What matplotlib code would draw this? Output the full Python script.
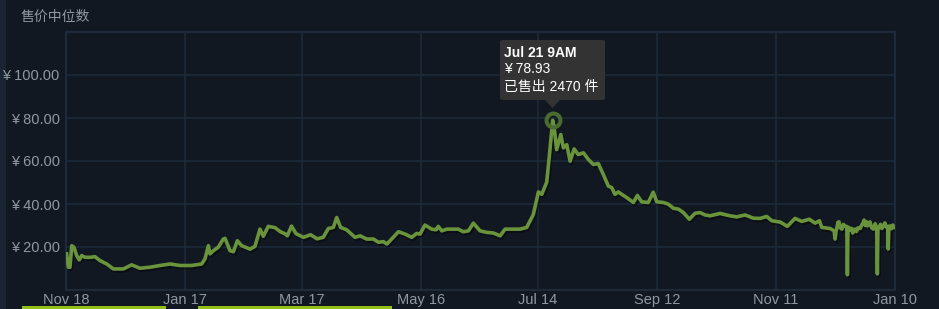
import matplotlib
matplotlib.use("Agg")
import matplotlib.pyplot as plt
import matplotlib.patheffects as pe
from matplotlib.patches import Rectangle, Polygon, FancyBboxPatch

plt.rcParams['font.family'] = ['Liberation Sans', 'Noto Sans CJK SC', 'DejaVu Sans']

# days since Nov 18 and median sale price (CNY)
days = [0.3, 1.2, 2.0, 2.9, 4.0, 5.4, 6.7, 7.9, 9.6, 12.1, 14.6, 17.1, 20.5, 23.9, 28.9,
        33.1, 37.3, 42.4, 47.4, 52.4, 57.5, 63.4, 68.4, 70.1, 71.8, 72.6, 74.3, 76.8,
        79.3, 80.2, 82.7, 84.4, 86.4, 88.6, 92.8, 95.3, 97.8, 99.5, 102.0, 105.4, 107.9,
        110.7, 111.6, 113.7, 116.0, 119.7, 123.3, 126.6, 129.7, 132.3, 134.8, 136.5,
        138.5, 141.5, 145.7, 148.3, 151.6, 155.0, 157.5, 160.0, 161.8, 163.4, 164.2,
        167.6, 171.0, 174.3, 176.8, 178.5, 181.0, 184.4, 186.6, 187.7, 189.5, 192.0,
        197.8, 200.3, 202.9, 205.4, 208.8, 212.1, 215.5, 218.9, 221.4, 225.6, 228.9,
        232.3, 235.6, 238.2, 239.9, 242.4, 243.7, 245.4, 246.1, 247.4, 249.5, 250.8,
        252.5, 254.2, 256.2, 258.3, 260.9, 263.4, 265.9, 268.4, 270.9, 273.5, 275.2,
        276.8, 278.5, 280.2, 282.7, 286.1, 288.1, 290.3, 293.6, 296.1, 297.9, 301.2,
        303.7, 306.3, 308.8, 311.3, 314.3, 317.2, 319.7, 322.2, 324.7, 329.8, 334.8,
        338.2, 342.4, 346.6, 350.0, 353.3, 355.9, 360.1, 363.7, 367.6, 371.0, 374.8,
        377.7, 379.9, 381.1, 385.3, 387.3, 387.8, 388.3, 388.6, 389.2, 389.8, 390.4,
        391.2, 392.0, 392.8, 393.7, 394.0, 394.3, 394.8, 395.5, 396.2, 396.7, 397.3,
        397.9, 398.6, 399.3, 400.4, 401.2, 401.8, 402.4, 403.0, 403.5, 404.1, 404.7,
        405.4, 406.2, 407.1, 408.0, 408.8, 409.1, 409.4, 410.0, 410.7, 411.4, 412.1,
        412.9, 413.6, 414.3, 414.6, 414.9, 415.5, 416.2, 416.9, 417.5, 418.0]
prices = [16.8, 10.6, 10.6, 20.6, 19.9, 16.0, 14.0, 16.0, 15.2, 15.2, 15.5, 13.7, 12.1, 9.8, 9.8,
          11.7, 10.1, 10.6, 11.4, 12.1, 11.4, 11.4, 12.1, 14.5, 20.6, 16.8, 18.3, 19.9,
          23.7, 24.0, 18.3, 17.8, 22.9, 20.6, 19.0, 20.3, 28.3, 25.0, 29.6, 29.0, 27.2,
          26.0, 25.2, 29.7, 26.2, 24.5, 25.7, 23.8, 24.5, 28.6, 29.1, 33.7,
          29.1, 28.0, 24.5, 25.2, 23.7, 23.7, 22.2, 22.5, 21.4, 22.9, 23.7,
          27.1, 26.0, 24.5, 26.3, 26.0, 30.2, 28.3, 28.0, 29.6, 27.5, 28.3,
          28.3, 27.1, 27.5, 31.1, 27.5, 26.8, 26.5, 25.2, 28.3, 28.3, 28.3,
          29.1, 35.0, 45.6, 44.5, 50.2, 62.2, 78.93, 76.1, 65.3, 72.3, 66.1,
          67.6, 59.9, 65.6, 63.0, 63.8, 60.7, 58.4, 58.8, 53.8, 48.3, 47.6,
          44.5, 45.6, 44.5, 43.0, 40.7, 44.0, 41.0, 40.7, 45.5, 41.0, 40.7,
          39.9, 38.0, 37.6, 36.0, 32.9, 35.7, 36.0, 34.9, 34.5, 35.6, 34.5,
          34.0, 34.9, 33.4, 33.3, 34.2, 32.2, 31.6, 29.6, 33.3, 31.9, 32.9,
          31.1, 32.2, 29.1, 28.6, 27.5, 23.7, 27.5, 28.3, 31.5, 31.7, 29.0,
          28.3, 30.5, 29.8, 29.5, 7.1, 29.0, 29.1, 27.8, 28.6, 26.5, 28.0,
          28.3, 27.2, 28.9, 28.6, 30.2, 31.0, 32.5, 30.0, 31.8, 29.8, 31.0,
          31.7, 29.0, 28.3, 30.8, 28.8, 7.5, 29.0, 29.1, 30.5, 28.6, 29.8,
          31.2, 29.3, 29.5, 19.1, 29.6, 29.8, 28.5, 30.2, 29.0, 29.1]

tick_days = [0, 60, 119, 179, 238, 298, 358, 418]
tick_labels = ['Nov 18', 'Jan 17', 'Mar 17', 'May 16', 'Jul 14', 'Sep 12', 'Nov 11', 'Jan 10']
y_ticks = [20, 40, 60, 80, 100]

peak_day = 245.4
peak_price = 78.93
peak_sold = 2470
peak_label = 'Jul 21 9AM'

W, H = 939, 309
bg = '#111821'
grid = '#1e2a39'
label_col = '#8f98a0'


def fx(px):
    return px / W


def fy(py):
    return 1 - py / H


fig = plt.figure(figsize=(W / 100, H / 100), dpi=100, facecolor=bg)

# left page strip and bottom buttons, behind everything
fig.add_artist(Rectangle((0, 0), fx(6), 1, transform=fig.transFigure, color='#1a2433', lw=0,
                         zorder=-5))
fig.add_artist(Rectangle((fx(22), 0), fx(166) - fx(22), fy(306), transform=fig.transFigure,
                         color='#93bf1a', lw=0, zorder=-5))
fig.add_artist(Rectangle((fx(198), 0), fx(392) - fx(198), fy(306), transform=fig.transFigure,
                         color='#93bf1a', lw=0, zorder=-5))

ax = fig.add_axes([fx(66), fy(290), fx(895) - fx(66), fy(32) - fy(290)], facecolor=bg)

ax.plot(days, prices, color='#6a943c', lw=2.6, solid_joinstyle='round', zorder=3,
        path_effects=[pe.SimpleLineShadow(offset=(1, -1.5), shadow_color='black', alpha=0.35),
                      pe.Normal()])
ax.plot([peak_day], [peak_price], 'o', mfc='none', mec='#4b6b30', ms=10, mew=2.9, zorder=4)

ax.set_xlim(0, 418)
ax.set_ylim(0, 120)
ax.set_xticks(tick_days)
ax.set_xticklabels(tick_labels)
ax.set_yticks(y_ticks)
ax.set_yticklabels(['¥ %.2f' % v for v in y_ticks])
ax.tick_params(length=0, colors=label_col, labelsize=10.5)
ax.tick_params(axis='y', pad=4.5)
ax.tick_params(axis='x', pad=2.5)
ax.grid(True, color=grid, lw=1.2)
ax.set_axisbelow(True)
for s in ax.spines.values():
    s.set_color(grid)
    s.set_linewidth(1.6)

fig.text(fx(21), fy(17), '售价中位数', color=label_col, fontsize=10, va='center', ha='left')

# tooltip
fig.add_artist(FancyBboxPatch((fx(500), fy(100)), fx(605) - fx(500), fy(40) - fy(100),
                              boxstyle='round,pad=0,rounding_size=0.004', transform=fig.transFigure,
                              fc='#333333', ec='none', zorder=10))
fig.add_artist(Polygon([(fx(545), fy(100)), (fx(560), fy(100)), (fx(552.5), fy(108))],
                       transform=fig.transFigure, fc='#333333', ec='none', zorder=10))
fig.text(fx(504), fy(53), peak_label, color='white', fontsize=10, fontweight='bold',
         va='center', zorder=11)
fig.text(fx(504), fy(69), '¥ %.2f' % peak_price, color='white', fontsize=10, va='center', zorder=11)
fig.text(fx(504), fy(87.5), '已售出 %d 件' % peak_sold, color='white', fontsize=10, va='center',
         zorder=11)

fig.savefig('out.png', dpi=100, facecolor=bg)
